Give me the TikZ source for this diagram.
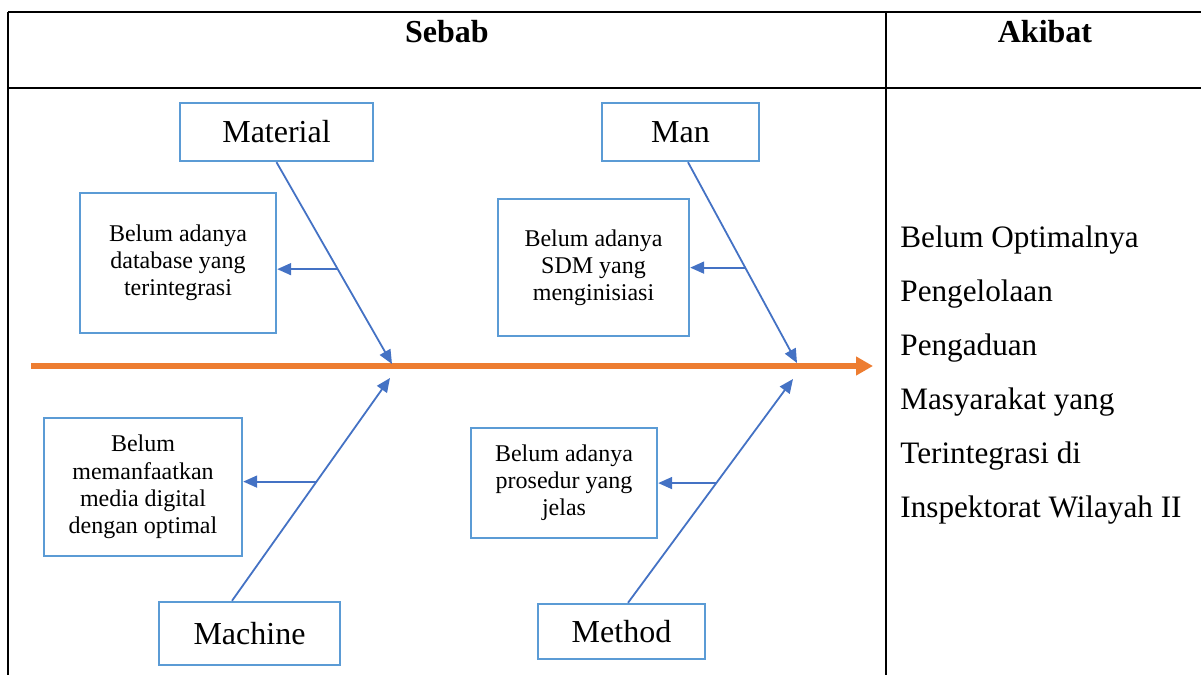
\documentclass[tikz,border=0pt]{standalone}
\usepackage{fontspec}
\setmainfont{Liberation Serif}
\usetikzlibrary{arrows.meta,calc,positioning}

\definecolor{boxblue}{HTML}{5B9BD5}
\definecolor{bonecol}{HTML}{4472C4}
\definecolor{spinecol}{HTML}{ED7D31}

\begin{document}
\begin{tikzpicture}[x=0.5pt, y=-0.5pt,
  grid/.style={line width=1.2pt, black},
  cat/.style={draw=boxblue, line width=1.2pt, inner sep=0pt, align=center, font=\fontsize{16}{18}\selectfont},
  cause/.style={draw=boxblue, line width=1.2pt, inner sep=0pt, align=center, font=\fontsize{12}{13.6}\selectfont},
  bone/.style={draw=bonecol, line width=0.9pt, -{Triangle[length=7pt,width=6pt]}},
  spine/.style={draw=spinecol, line width=3pt, -{Triangle[length=8.5pt,width=9pt]}},
  head/.style={font=\fontsize{16}{18}\selectfont\bfseries, anchor=base}]
\useasboundingbox (0,0) rectangle (1201,675);

% table
\draw[grid] (8,12) -- (1201,12);
\draw[grid] (8,88) -- (1201,88);
\draw[grid] (8,12) -- (8,675);
\draw[grid] (886,12) -- (886,675);
\node[head] (sebab) at (447,42) {Sebab};
\node[head] (akibat) at (1045,42) {Akibat};

% spine
\coordinate (tail) at (31,366);
\coordinate (front) at (873,366);
\draw[spine] (tail) -- (front);
\coordinate (t1) at (392,364);
\coordinate (t2) at (797,363);
\coordinate (t3) at (390,378);
\coordinate (t4) at (793,379);

% Material
\node[cat, minimum width=96.5pt, minimum height=29pt] (mat) at (276.5,132) {Material};
\node[cause, minimum width=98pt, minimum height=70pt] (c1) at (178,263) {Belum adanya\\database yang\\terintegrasi};
\draw[bone] (mat.south) -- (t1);
\coordinate (b1) at ($(mat.south)!0.53!(t1)$);
\draw[bone] (b1) -- (b1 -| c1.east);

% Man
\node[cat, minimum width=78.5pt, minimum height=29pt] (man) at (680.5,132) {Man};
\node[cause, minimum width=95.5pt, minimum height=68.5pt] (c2) at (593.5,267.5) {Belum adanya\\SDM yang\\menginisiasi};
\draw[bone] ([xshift=3.75pt]man.south) -- (t2);
\coordinate (b2) at ($([xshift=3.75pt]man.south)!0.525!(t2)$);
\draw[bone] (b2) -- (b2 -| c2.east);

% Machine
\node[cat, minimum width=90.5pt, minimum height=31.5pt] (mach) at (249.5,633.5) {Machine};
\node[cause, minimum width=99pt, minimum height=69pt] (c3) at (143,487) {Belum\\memanfaatkan\\media digital\\dengan optimal};
\draw[bone] ([xshift=-8.75pt]mach.north) -- (t3);
\coordinate (b3) at ($([xshift=-8.75pt]mach.north)!0.535!(t3)$);
\draw[bone] (b3) -- (b3 -| c3.east);

% Method
\node[cat, minimum width=83.5pt, minimum height=27.5pt] (meth) at (621.5,631.5) {Method};
\node[cause, minimum width=93pt, minimum height=55pt] (c4) at (564,483) {Belum adanya\\prosedur yang\\jelas};
\draw[bone] ([xshift=3.25pt]meth.north) -- (t4);
\coordinate (b4) at ($([xshift=3.25pt]meth.north)!0.535!(t4)$);
\draw[bone] (b4) -- (b4 -| c4.east);

% Akibat
\node[anchor=north west, inner sep=0pt, align=left, font=\fontsize{15.6}{27}\selectfont] (effect) at (900,225)
  {Belum Optimalnya\\Pengelolaan\\Pengaduan\\Masyarakat yang\\Terintegrasi di\\Inspektorat Wilayah II};
\end{tikzpicture}
\end{document}
